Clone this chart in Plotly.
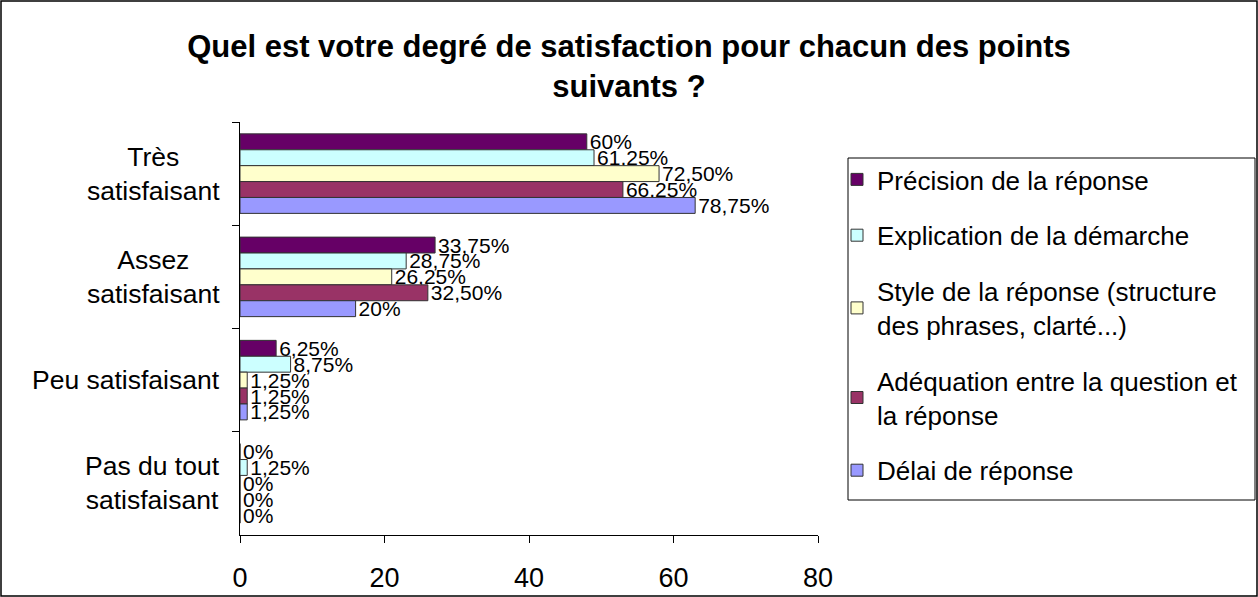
import plotly.graph_objects as go

# categories (top to bottom) and series
categories = ["Très satisfaisant", "Assez satisfaisant", "Peu satisfaisant", "Pas du tout satisfaisant"]
cat_labels = ["Très<br>satisfaisant", "Assez<br>satisfaisant", "Peu satisfaisant", "Pas du tout<br>satisfaisant"]

series_names = ["Précision de la réponse", "Explication de la démarche",
                "Style de la réponse (structure<br>des phrases, clarté...)",
                "Adéquation entre la question et<br>la réponse", "Délai de réponse"]
series_colors = ["#660066", "#CCFFFF", "#FFFFCC", "#993366", "#9999FF"]

# bar lengths (number of answers, out of 80)
precision = [48, 27, 5, 0]
explication = [49, 23, 7, 1]
style = [58, 21, 1, 0]
adequation = [53, 26, 1, 0]
delai = [63, 16, 1, 0]

# data labels shown on the chart
precision_txt = ["60%", "33,75%", "6,25%", "0%"]
explication_txt = ["61,25%", "28,75%", "8,75%", "1,25%"]
style_txt = ["72,50%", "26,25%", "1,25%", "0%"]
adequation_txt = ["66,25%", "32,50%", "1,25%", "0%"]
delai_txt = ["78,75%", "20%", "1,25%", "0%"]

values = [precision, explication, style, adequation, delai]
texts = [precision_txt, explication_txt, style_txt, adequation_txt, delai_txt]

W, H = 1258, 597
L, R, T, B = 240, 818, 122, 535  # plot area in pixels


def px(x):
    return (x - L) / (R - L)


def py(y):
    return (B - y) / (B - T)


FONT = "Liberation Sans, Arial, sans-serif"

fig = go.Figure()
for i in range(5):
    fig.add_trace(go.Bar(
        y=categories, x=values[i], orientation="h", name=series_names[i],
        marker=dict(color=series_colors[i], line=dict(color="#333333", width=1)),
        text=texts[i], textposition="outside", cliponaxis=False,
        constraintext="none", textfont=dict(size=21, color="black", family=FONT),
        legendgroup=str(i), hoverinfo="skip",
    ))

for c, lab in zip(categories, cat_labels):
    fig.add_annotation(x=px(222), xref="paper", y=c, yref="y", text=lab,
                       showarrow=False, align="center", xanchor="right",
                       font=dict(size=26.5, color="black", family=FONT))

# outer frame and legend box
fig.add_shape(type="rect", xref="paper", yref="paper",
              x0=px(1), x1=px(1257), y0=py(596), y1=py(1),
              line=dict(color="black", width=1.5), layer="below")
fig.add_shape(type="rect", xref="paper", yref="paper",
              x0=px(848), x1=px(1255), y0=py(500), y1=py(158),
              line=dict(color="black", width=1), layer="below")

fig.update_layout(
    width=W, height=H,
    margin=dict(l=L, r=W - R, t=T, b=H - B, pad=0, autoexpand=False),
    paper_bgcolor="white", plot_bgcolor="white",
    barmode="group", bargap=0.23, bargroupgap=0,
    font=dict(family=FONT, color="black"),
    title=dict(text="<b>Quel est votre degré de satisfaction pour chacun des points<br>suivants ?</b>",
               x=0.5, xanchor="center", y=1 - 57 / H, yanchor="middle",
               font=dict(size=31, family=FONT, color="black")),
    legend=dict(x=px(837), y=py(156), xanchor="left", yanchor="top",
                font=dict(size=26, family=FONT, color="black"),
                bgcolor="rgba(0,0,0,0)", borderwidth=0,
                tracegroupgap=19, itemwidth=30),
    showlegend=True,
)
fig.update_xaxes(range=[0, 80], tickvals=[0, 20, 40, 60, 80], ticks="outside",
                 ticklen=7, tickcolor="black", showline=True, linecolor="black",
                 showgrid=False, zeroline=False, ticklabelstandoff=12, automargin=False,
                 tickfont=dict(size=27, family=FONT, color="black"))
fig.update_yaxes(autorange="reversed", showticklabels=False, ticks="outside",
                 tickson="boundaries", ticklen=7, tickcolor="black", automargin=False,
                 showline=True, linecolor="black", showgrid=False)

fig.write_html("out.html", config={"displayModeBar": False},
               post_script="document.body.style.margin='0';")
